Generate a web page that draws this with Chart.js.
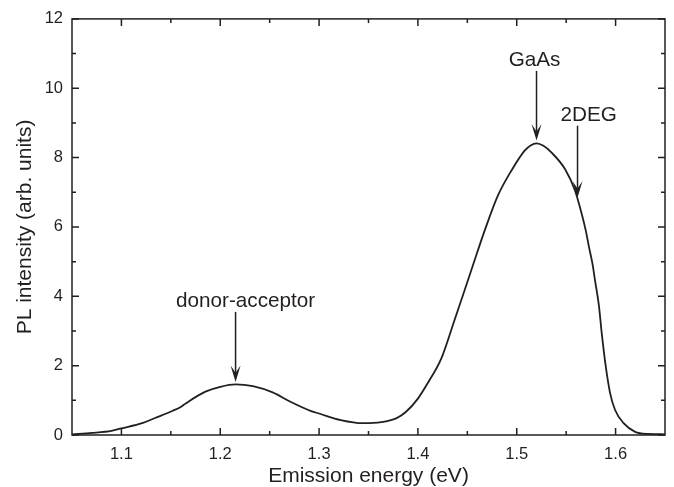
<!DOCTYPE html>
<html>
<head>
<meta charset="utf-8">
<script src="https://cdn.jsdelivr.net/npm/chart.js@4"></script>
<style>
  html, body { margin: 0; padding: 0; background: #fff; }
  #wrap { width: 674px; height: 487px; }
</style>
</head>
<body>
<div id="wrap"><canvas id="pl"></canvas></div>
<script>
// PL spectrum (emission energy in eV, intensity in arb. units)
const energy = [
  1.050, 1.070, 1.090, 1.100, 1.121, 1.134, 1.152, 1.160, 1.165, 1.185,
  1.200, 1.2155, 1.233, 1.253, 1.271, 1.292, 1.300, 1.322, 1.344, 1.363,
  1.378, 1.388, 1.400, 1.410, 1.4236, 1.437, 1.454, 1.4676, 1.481, 1.4947,
  1.508, 1.514, 1.520, 1.527, 1.535, 1.5488, 1.5589, 1.5657, 1.5698, 1.5731,
  1.5766, 1.5792, 1.5833, 1.5860, 1.5901, 1.5945, 1.5995, 1.6081, 1.6198, 1.6334,
  1.650
];
const intensity = [
  0.02, 0.06, 0.12, 0.19, 0.34, 0.49, 0.70, 0.81, 0.91, 1.25,
  1.39, 1.46, 1.41, 1.23, 0.96, 0.69, 0.62, 0.43, 0.34, 0.37,
  0.48, 0.67, 1.05, 1.50, 2.20, 3.31, 4.75, 5.90, 6.91, 7.63,
  8.20, 8.35, 8.41, 8.34, 8.15, 7.67, 7.05, 6.38, 5.90, 5.42,
  4.94, 4.46, 3.69, 2.93, 1.97, 1.20, 0.72, 0.34, 0.09, 0.03,
  0.02
];

const xTicks = [1.1, 1.2, 1.3, 1.4, 1.5, 1.6];
const xMinor = [1.15, 1.25, 1.35, 1.45, 1.55];
const yTicks = [0, 2, 4, 6, 8, 10, 12];
const yMinor = [1, 3, 5, 7, 9, 11];

// peak markers: label, label centre, arrow x, arrow start / tip (data units)
const peakLabels = ['donor-acceptor', 'GaAs', '2DEG'];
const labelX = [1.2256, 1.518, 1.5728];
const arrowX = [1.2155, 1.52, 1.5615];
const arrowFrom = [3.55, 10.5, 8.92];
const arrowTo = [1.53, 8.49, 6.85];

const INK = '#231f20';
const FONT = "'Liberation Sans', Arial, sans-serif";

Chart.defaults.color = INK;
Chart.defaults.font.family = FONT;

// frame around the plot with inward ticks on all four sides
const frameTicks = {
  id: 'frameTicks',
  afterDatasetsDraw(chart) {
    const { ctx, chartArea: a } = chart;
    const xs = chart.scales.x, ys = chart.scales.y;
    ctx.save();
    ctx.strokeStyle = INK;
    ctx.lineWidth = 1.5;
    ctx.strokeRect(a.left, a.top, a.right - a.left, a.bottom - a.top);
    ctx.beginPath();
    const tx = (v, len) => {
      const p = xs.getPixelForValue(v);
      ctx.moveTo(p, a.bottom); ctx.lineTo(p, a.bottom - len);
      ctx.moveTo(p, a.top); ctx.lineTo(p, a.top + len);
    };
    const ty = (v, len) => {
      const p = ys.getPixelForValue(v);
      ctx.moveTo(a.left, p); ctx.lineTo(a.left + len, p);
      ctx.moveTo(a.right, p); ctx.lineTo(a.right - len, p);
    };
    xTicks.forEach(v => tx(v, 7));
    xMinor.forEach(v => tx(v, 4));
    yTicks.forEach(v => ty(v, 7));
    yMinor.forEach(v => ty(v, 4));
    ctx.stroke();
    ctx.restore();
  }
};

// labelled arrows pointing at the emission peaks
const peakArrows = {
  id: 'peakArrows',
  afterDraw(chart) {
    const { ctx } = chart;
    const xs = chart.scales.x, ys = chart.scales.y;
    ctx.save();
    ctx.strokeStyle = INK;
    ctx.fillStyle = INK;
    ctx.lineWidth = 1.5;
    ctx.font = '20.7px ' + FONT;
    ctx.textAlign = 'center';
    ctx.textBaseline = 'alphabetic';
    peakLabels.forEach((txt, i) => {
      const x = xs.getPixelForValue(arrowX[i]);
      const y0 = ys.getPixelForValue(arrowFrom[i]);
      const y1 = ys.getPixelForValue(arrowTo[i]);
      const head = 16.5, half = 5, notch = 0.55;
      ctx.beginPath();
      ctx.moveTo(x, y0);
      ctx.lineTo(x, y1 - head * notch);
      ctx.stroke();
      ctx.beginPath();
      ctx.moveTo(x, y1);
      ctx.lineTo(x - half, y1 - head);
      ctx.lineTo(x, y1 - head * notch);
      ctx.lineTo(x + half, y1 - head);
      ctx.closePath();
      ctx.fill();
      ctx.fillText(txt, xs.getPixelForValue(labelX[i]), y0 - 5);
    });
    ctx.restore();
  }
};

new Chart(document.getElementById('pl'), {
  type: 'line',
  data: {
    datasets: [{
      data: energy.map((e, i) => ({ x: e, y: intensity[i] })),
      borderColor: INK,
      borderWidth: 1.8,
      pointRadius: 0,
      fill: false,
      cubicInterpolationMode: 'monotone'
    }]
  },
  options: {
    responsive: true,
    maintainAspectRatio: false,
    animation: false,
    layout: { padding: { top: 18, right: 9, left: 0, bottom: 0 } },
    plugins: { legend: { display: false }, tooltip: { enabled: false } },
    scales: {
      x: {
        type: 'linear',
        min: 1.05,
        max: 1.65,
        grid: { display: false, drawTicks: false },
        border: { display: false },
        afterBuildTicks: s => { s.ticks = xTicks.map(v => ({ value: v })); },
        afterFit: s => { s.height = 52; },
        ticks: {
          padding: 10,
          maxRotation: 0,
          font: { size: 16.5 },
          callback: v => v.toFixed(1)
        },
        title: {
          display: true,
          text: 'Emission energy (eV)',
          font: { size: 21, lineHeight: 1 },
          padding: { top: 0, bottom: 0 }
        }
      },
      y: {
        min: 0,
        max: 12,
        grid: { display: false, drawTicks: false },
        border: { display: false },
        afterBuildTicks: s => { s.ticks = yTicks.map(v => ({ value: v })); },
        afterFit: s => { s.width = 72; },
        ticks: {
          padding: 9,
          font: { size: 16.5 },
          callback: v => String(v)
        },
        title: {
          display: true,
          text: 'PL intensity (arb. units)',
          font: { size: 21, lineHeight: 1 },
          padding: { top: 15, bottom: 0 }
        }
      }
    }
  },
  plugins: [frameTicks, peakArrows]
});
</script>
</body>
</html>
